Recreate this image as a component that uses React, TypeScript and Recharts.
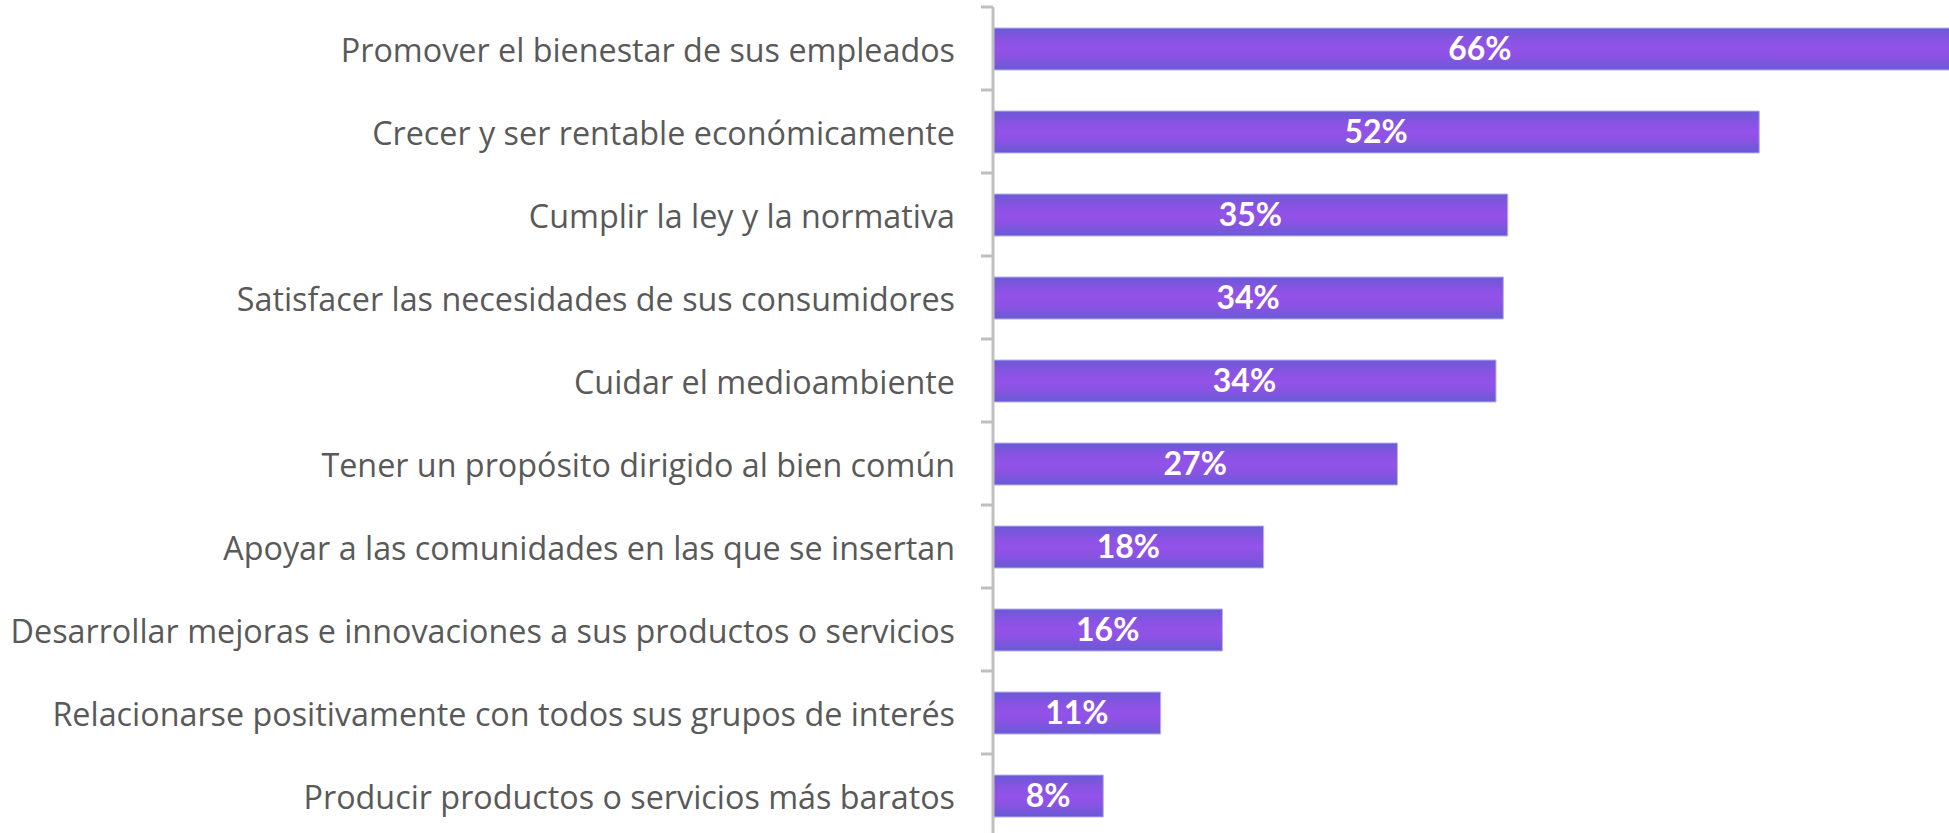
import React from "react";
import { BarChart, Bar, XAxis, YAxis, LabelList } from "recharts";

const categories = [
  "Promover el bienestar de sus empleados",
  "Crecer y ser rentable económicamente",
  "Cumplir la ley y la normativa",
  "Satisfacer las necesidades de sus consumidores",
  "Cuidar el medioambiente",
  "Tener un propósito dirigido al bien común",
  "Apoyar a las comunidades en las que se insertan",
  "Desarrollar mejoras e innovaciones a sus productos o servicios",
  "Relacionarse positivamente con todos sus grupos de interés",
  "Producir productos o servicios más baratos",
];
const values = [66.2, 52.1, 35.0, 34.7, 34.2, 27.5, 18.4, 15.6, 11.4, 7.5];
const valueLabels = ["66%", "52%", "35%", "34%", "34%", "27%", "18%", "16%", "11%", "8%"];

const data = categories.map((c, i) => ({ name: c, value: values[i], label: valueLabels[i] }));

const W = 1949;
const H = 837;
const YW = 993;
const TICK = 12;

const CatTick = (props: any) => {
  const { x, y, payload, index } = props;
  const off = payload && payload.offset ? payload.offset : 0;
  const axisX = YW;
  return (
    <g>
      <text
        x={x}
        y={y}
        textAnchor="end"
        dominantBaseline="central"
        fill="#595959"
        fontFamily="'Open Sans', Lato, sans-serif"
        fontSize={32.3}
      >
        {payload.value}
      </text>
      <line x1={axisX - TICK} x2={axisX} y1={y - off} y2={y - off} stroke="#bfbfbf" strokeWidth={3} />
      {index === categories.length - 1 ? (
        <line x1={axisX - TICK} x2={axisX} y1={y + off} y2={y + off} stroke="#bfbfbf" strokeWidth={3} />
      ) : null}
    </g>
  );
};

export default function App() {
  return (
    <div style={{ position: "absolute", left: 0, top: 0, width: W, height: 833, overflow: "hidden", background: "#fff" }}>
      <BarChart
        width={W}
        height={H}
        data={data}
        layout="vertical"
        margin={{ top: 7, right: 0, bottom: 0, left: 0 }}
        barSize={42}
      >
        <defs>
          <linearGradient id="barGrad" x1="0" y1="0" x2="0" y2="1">
            <stop offset="0%" stopColor="#6a5ad6" />
            <stop offset="30%" stopColor="#8a53e4" />
            <stop offset="50%" stopColor="#9352e8" />
            <stop offset="70%" stopColor="#8a53e4" />
            <stop offset="100%" stopColor="#675bd4" />
          </linearGradient>
        </defs>
        <XAxis type="number" domain={[0, 65]} allowDataOverflow hide />
        <YAxis
          type="category"
          dataKey="name"
          width={YW}
          axisLine={{ stroke: "#bfbfbf", strokeWidth: 3 }}
          tickLine={false}
          tickSize={TICK}
          tickMargin={26}
          interval={0}
          tick={<CatTick />}
        />
        <Bar dataKey="value" fill="url(#barGrad)" stroke="#b9b0f0" strokeWidth={1} isAnimationActive={false}>
          <LabelList
            dataKey="label"
            position="center"
            fill="#ffffff"
            fontFamily="Lato, 'Open Sans', sans-serif"
            fontWeight={700}
            fontSize={32}
          />
        </Bar>
      </BarChart>
    </div>
  );
}
